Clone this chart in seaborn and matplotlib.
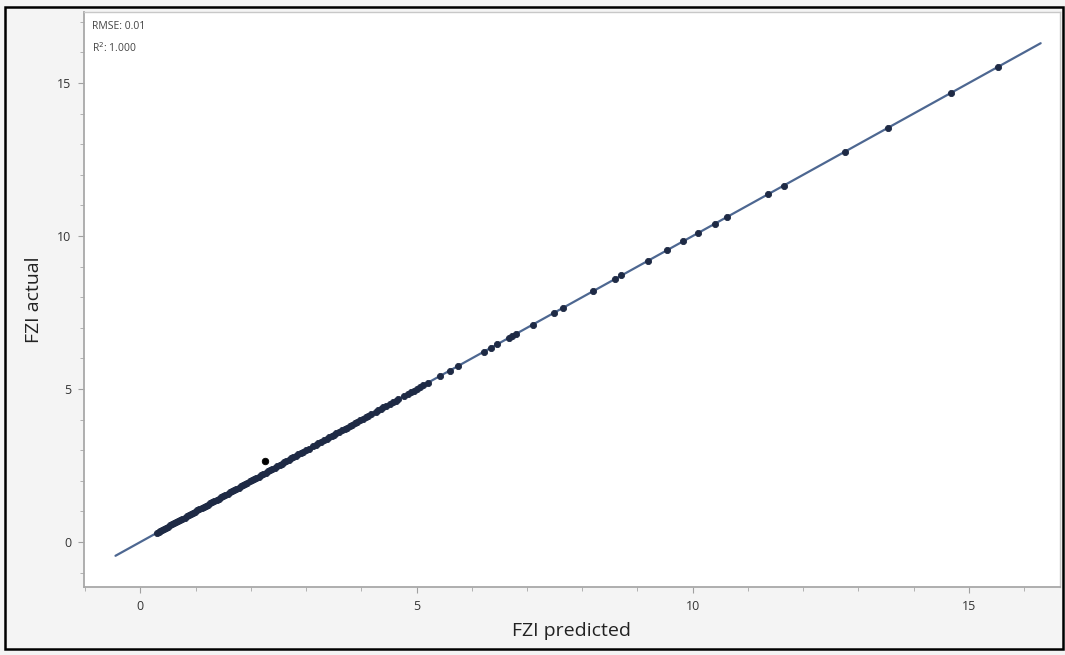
import matplotlib
matplotlib.use("Agg")
import matplotlib.pyplot as plt
import seaborn as sns
import pandas as pd
from matplotlib.ticker import MultipleLocator
from matplotlib.patches import Rectangle

# ---- data ----
fzi_predicted = [
    0.30, 0.33, 0.36, 0.40, 0.43, 0.47, 0.50, 0.54, 0.58, 0.61, 0.65, 0.69, 0.72, 0.76,
    0.80, 0.84, 0.88, 0.91, 0.95, 0.99, 1.03, 1.07, 1.11, 1.15, 1.18, 1.22, 1.26, 1.30,
    1.34, 1.38, 1.42, 1.46, 1.50, 1.54, 1.58, 1.62, 1.66, 1.70, 1.74, 1.78, 1.82, 1.86,
    1.90, 1.94, 1.98, 2.02, 2.06, 2.10, 2.14, 2.18, 2.22, 2.27, 2.31, 2.35, 2.39, 2.43,
    2.47, 2.52, 2.56, 2.60, 2.64, 2.69, 2.73, 2.77, 2.82, 2.86, 2.90, 2.95, 3.00, 3.05,
    3.13, 3.18, 3.22, 3.27, 3.32, 3.38, 3.42, 3.47, 3.50, 3.55, 3.60, 3.65, 3.70, 3.74,
    3.79, 3.84, 3.89, 3.93, 3.98, 4.03, 4.08, 4.12, 4.17, 4.26, 4.31, 4.35, 4.40, 4.45,
    4.52, 4.57, 4.62, 4.66, 4.78, 4.84, 4.90, 4.95, 5.01, 5.06, 5.12, 5.20, 5.43, 5.60,
    5.75, 6.22, 6.34, 6.46, 6.67, 6.72, 6.80, 7.10, 7.49, 7.66, 8.19, 8.59, 8.71, 9.19,
    9.54, 9.83, 10.10, 10.40, 10.63, 11.36, 11.65, 12.75, 13.53, 14.67, 15.52,
]
fzi_actual = [
    0.30, 0.33, 0.37, 0.40, 0.43, 0.47, 0.50, 0.54, 0.58, 0.61, 0.65, 0.69, 0.72, 0.76,
    0.80, 0.84, 0.87, 0.91, 0.95, 0.99, 1.03, 1.07, 1.11, 1.15, 1.18, 1.22, 1.26, 1.30,
    1.34, 1.38, 1.42, 1.46, 1.50, 1.54, 1.58, 1.62, 1.66, 1.70, 1.74, 1.78, 1.82, 1.86,
    1.90, 1.94, 1.98, 2.02, 2.06, 2.10, 2.14, 2.18, 2.22, 2.27, 2.31, 2.35, 2.39, 2.43,
    2.47, 2.52, 2.56, 2.60, 2.64, 2.69, 2.73, 2.77, 2.82, 2.86, 2.90, 2.95, 3.00, 3.05,
    3.13, 3.18, 3.22, 3.27, 3.32, 3.38, 3.42, 3.47, 3.50, 3.55, 3.60, 3.65, 3.70, 3.74,
    3.79, 3.84, 3.89, 3.93, 3.98, 4.03, 4.08, 4.12, 4.17, 4.26, 4.31, 4.35, 4.40, 4.45,
    4.52, 4.57, 4.62, 4.66, 4.78, 4.84, 4.90, 4.95, 5.01, 5.06, 5.12, 5.20, 5.43, 5.60,
    5.75, 6.22, 6.34, 6.46, 6.67, 6.72, 6.80, 7.10, 7.49, 7.66, 8.19, 8.59, 8.71, 9.19,
    9.54, 9.83, 10.10, 10.40, 10.63, 11.36, 11.65, 12.75, 13.53, 14.67, 15.52,
]
outlier_predicted = [2.26]
outlier_actual = [2.65]
fit_x = [-0.45, 16.30]
fit_y = [-0.45, 16.30]
x_ticks = [0, 5, 10, 15]
y_ticks = [0, 5, 10, 15]
stats_text = ["RMSE: 0.01", "R$^2$: 1.000"]

sns.set_theme(style="white")
plt.rcParams["font.family"] = ["Open Sans", "DejaVu Sans"]

W, H = 1065, 655
fig = plt.figure(figsize=(W / 100, H / 100), dpi=100)
fig.patch.set_facecolor("#f4f4f4")
ax = fig.add_axes([84 / W, 1 - 587 / H, (1060 - 84) / W, (587 - 12) / H])
ax.set_facecolor("white")

df = pd.DataFrame({"pred": fzi_predicted, "act": fzi_actual})
fit_df = pd.DataFrame({"x": fit_x, "y": fit_y})
out_df = pd.DataFrame({"pred": outlier_predicted, "act": outlier_actual})

sns.lineplot(data=fit_df, x="x", y="y", ax=ax, color="#4d6791", linewidth=1.6, zorder=2)
sns.scatterplot(data=df, x="pred", y="act", ax=ax, color="#1e2a45", s=20,
                edgecolor="#1e2a45", linewidth=0.6, zorder=3)
sns.scatterplot(data=out_df, x="pred", y="act", ax=ax, color="black", s=22,
                edgecolor="black", linewidth=0.6, zorder=4)

ax.set_xlim(-1.02, 16.65)
ax.set_ylim(-1.47, 17.32)
ax.set_xticks(x_ticks)
ax.set_yticks(y_ticks)
ax.xaxis.set_minor_locator(MultipleLocator(1))
ax.yaxis.set_minor_locator(MultipleLocator(1))

for s in ax.spines.values():
    s.set_color("#c8c8c8")
    s.set_linewidth(1.0)
ax.spines["left"].set_color("#a8a8a8")
ax.spines["bottom"].set_color("#a8a8a8")
ax.spines["left"].set_linewidth(1.3)
ax.spines["bottom"].set_linewidth(1.3)

ax.tick_params(axis="both", which="major", direction="out", length=4, width=0.8,
               color="#a0a0a0", labelsize=9, labelcolor="#333333", pad=5,
               bottom=True, left=True)
ax.tick_params(axis="both", which="minor", direction="out", length=3, width=0.7,
               color="#b0b0b0", bottom=True, left=True)

ax.set_xlabel("FZI predicted", fontsize=14, color="#222222", labelpad=7)
ax.set_ylabel("FZI actual", fontsize=14, color="#222222", labelpad=10)

ax.text(0.008, 0.985, stats_text[0], transform=ax.transAxes, fontsize=7.5,
        color="#444444", va="top", ha="left")
ax.text(0.008, 0.950, stats_text[1], transform=ax.transAxes, fontsize=7.5,
        color="#444444", va="top", ha="left")

# outer black frame
fig.patches.append(Rectangle((5 / W, 6 / H), (1063 - 5) / W, (648 - 6) / H,
                             transform=fig.transFigure, fill=False,
                             edgecolor="black", linewidth=1.8))

fig.savefig("out.png", dpi=100, facecolor=fig.get_facecolor())
